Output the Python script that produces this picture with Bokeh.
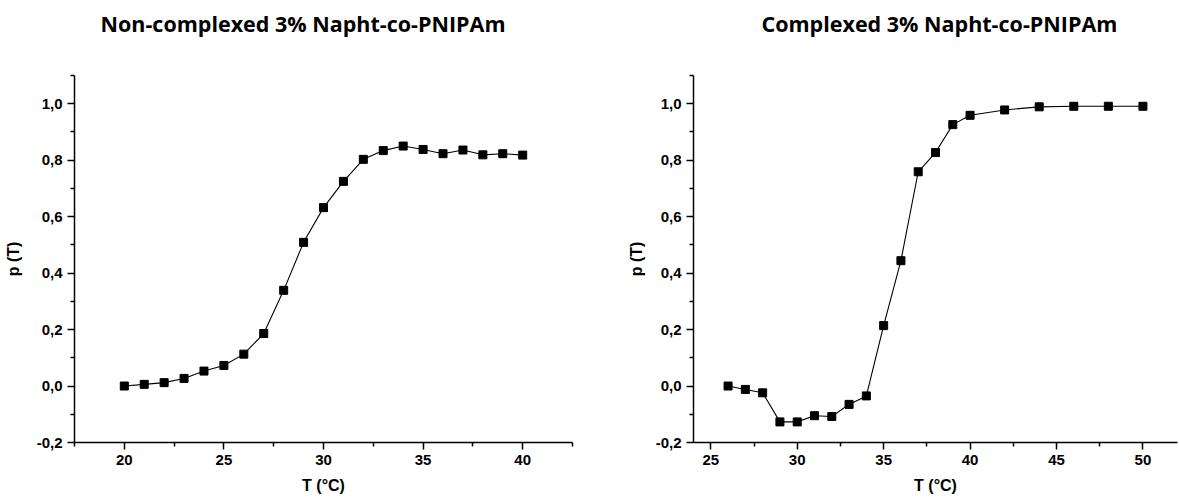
from bokeh.plotting import figure
from bokeh.layouts import row
from bokeh.models import FixedTicker, CustomJSTickFormatter, Range1d, Title, LinearAxis
from bokeh.embed import file_html
from bokeh.resources import INLINE

# ---- data ----
t_non = [20, 21, 22, 23, 24, 25, 26, 27, 28, 29, 30, 31, 32, 33, 34, 35, 36, 37, 38, 39, 40]
p_non = [0.0, 0.006, 0.012, 0.027, 0.053, 0.073, 0.113, 0.186, 0.339, 0.509, 0.632,
         0.725, 0.803, 0.834, 0.850, 0.838, 0.823, 0.836, 0.819, 0.823, 0.818]

t_cpx = [26, 27, 28, 29, 30, 31, 32, 33, 34, 35, 36, 37, 38, 39, 40, 42, 44, 46, 48, 50]
p_cpx = [0.0, -0.012, -0.024, -0.127, -0.127, -0.105, -0.108, -0.065, -0.035, 0.214,
         0.444, 0.759, 0.827, 0.926, 0.959, 0.978, 0.989, 0.991, 0.991, 0.991]

title_non = "Non-complexed 3% Napht-co-PNIPAm"
title_cpx = "Complexed 3% Napht-co-PNIPAm"
x_label = "T (°C)"
y_label = "p (T)"

y_major = [-0.2, 0.0, 0.2, 0.4, 0.6, 0.8, 1.0]
y_minor = [-0.1, 0.1, 0.3, 0.5, 0.7, 0.9, 1.1]
x_major_non = [20, 25, 30, 35, 40]
x_minor_non = [17.5, 22.5, 27.5, 32.5, 37.5, 42.5]
x_major_cpx = [25, 30, 35, 40, 45, 50]
x_minor_cpx = [27.5, 32.5, 37.5, 42.5, 47.5]

FONT = "Liberation Sans"
TITLE_FONT = "Open Sans"

fmt_code = "return tick.toFixed(1).replace('.', ',');"
xfmt_code = "return tick.toFixed(0);"
blank_code = "return '';"


def make_fig(xs, ys, title, xr, xmaj, xmin, width, mbl, mbr, toff, ylab_standoff):
    p = figure(width=width, height=499, output_backend="svg", toolbar_location=None,
               x_range=Range1d(*xr), y_range=Range1d(-0.2, 1.1),
               min_border_left=mbl, min_border_right=mbr,
               min_border_top=75, min_border_bottom=57)
    p.title = None
    xa = p.below[0]
    ya = p.left[0]
    # invisible spacer axis between the frame and the title
    spacer = LinearAxis(ticker=FixedTicker(ticks=[xmaj[0]], minor_ticks=[]),
                        formatter=CustomJSTickFormatter(code=blank_code),
                        axis_line_color=None,
                        major_tick_line_color=None, minor_tick_line_color=None,
                        major_tick_in=0, major_tick_out=33, minor_tick_in=0,
                        minor_tick_out=0, major_label_standoff=0,
                        major_label_text_font_size="0px")
    p.add_layout(spacer, "above")
    t = Title(text=title, align="left", offset=toff, standoff=10,
              text_font=TITLE_FONT, text_font_size="21.5px", text_font_style="bold",
              text_color="black")
    p.add_layout(t, "above")
    p.outline_line_color = None
    p.xgrid.visible = False
    p.ygrid.visible = False
    p.background_fill_color = "white"
    p.border_fill_color = "white"

    p.line(xs, ys, line_color="black", line_width=1.1)
    p.scatter(xs, ys, marker="square", size=8, fill_color="black", line_color="black")

    for ax in (xa, ya):
        ax.axis_line_width = 1.5
        ax.axis_line_color = "black"
        ax.major_tick_line_width = 1.5
        ax.minor_tick_line_width = 1.5
        ax.major_tick_line_color = "black"
        ax.minor_tick_line_color = "black"
        ax.major_tick_in = 0
        ax.major_tick_out = 7
        ax.minor_tick_in = 0
        ax.minor_tick_out = 4
        ax.major_label_text_font = FONT
        ax.major_label_text_font_style = "bold"
        ax.major_label_text_font_size = "15px"
        ax.major_label_text_color = "black"
        ax.axis_label_text_font = FONT
        ax.axis_label_text_font_style = "bold"
        ax.axis_label_text_font_size = "16px"
        ax.axis_label_text_color = "black"

    xa.ticker = FixedTicker(ticks=xmaj, minor_ticks=xmin)
    xa.formatter = CustomJSTickFormatter(code=xfmt_code)
    xa.axis_label = x_label
    xa.major_label_standoff = 5
    xa.axis_label_standoff = 9

    ya.ticker = FixedTicker(ticks=y_major, minor_ticks=y_minor)
    ya.formatter = CustomJSTickFormatter(code=fmt_code)
    ya.axis_label = y_label
    ya.major_label_standoff = 5
    ya.axis_label_standoff = ylab_standoff
    return p


p1 = make_fig(t_non, p_non, title_non, (17.5, 42.5), x_major_non, x_minor_non,
              624, 74, 52, 26, 12)
p2 = make_fig(t_cpx, p_cpx, title_cpx, (24, 52.0), x_major_cpx, x_minor_cpx,
              555, 66, 2, 68, 8)

layout = row(p1, p2, spacing=0)
open("out.html", "w").write(file_html(layout, INLINE))
